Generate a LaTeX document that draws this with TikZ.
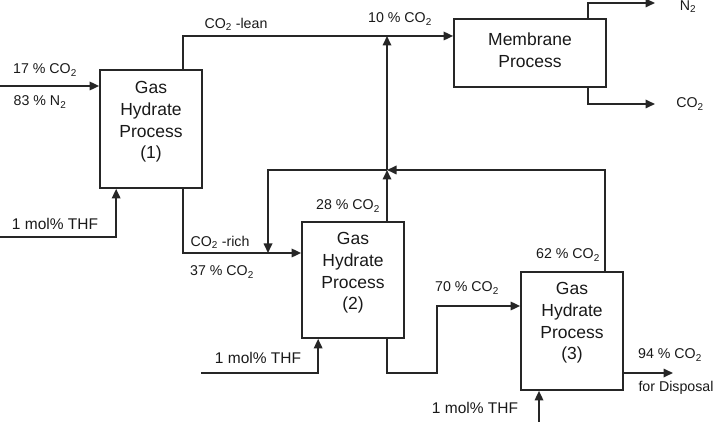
\documentclass[tikz,border=0pt]{standalone}
\usepackage{fontspec}
\setmainfont{Liberation Sans}
\usetikzlibrary{calc,arrows.meta}
\begin{document}
\begin{tikzpicture}[x=1pt,y=-1pt,
  line/.style={line width=1.7pt,draw=black!85},
  arr/.style={line,-{Triangle[length=9.5pt,width=8.5pt]}},
  box/.style={draw=black!85,line width=1.7pt,inner sep=0pt},
  boxtext/.style={align=center,inner sep=0pt,font=\fontsize{17.5}{21.7}\selectfont,text=black!90},
  lab/.style={inner sep=0pt,font=\fontsize{14.2}{16}\selectfont,text=black!90},
  thf/.style={inner sep=0pt,font=\fontsize{15.5}{18}\selectfont,text=black!90}]
\useasboundingbox (0,0) rectangle (718,422);
% boxes
\node[box,minimum width=102pt,minimum height=118pt] (b1) at (151,129) {};
\node[boxtext] (b1t) at ($(b1)+(0,-7)$) {Gas\\Hydrate\\Process\\(1)};
\node[box,minimum width=102pt,minimum height=116pt] (b2) at (353,280) {};
\node[boxtext] (b2t) at ($(b2)+(0,-7)$) {Gas\\Hydrate\\Process\\(2)};
\node[box,minimum width=102pt,minimum height=118pt] (b3) at (572,331) {};
\node[boxtext] (b3t) at ($(b3)+(0,-8)$) {Gas\\Hydrate\\Process\\(3)};
\node[box,minimum width=152pt,minimum height=68pt] (mem) at (530,53) {};
\node[boxtext] (memt) at ($(mem)+(0,-3)$) {Membrane\\Process};
% coordinates
\coordinate (in1) at (0,86);
\coordinate (j1) at (183,36);
\coordinate (j2) at (387,170);
\coordinate (r1) at (605,170);
\coordinate (rd) at (268,170);
\coordinate (j3) at (183,253);
\coordinate (rdb) at (268,253);
\coordinate (t1) at (0,237);
\coordinate (t2) at (201,373);
\coordinate (t3) at (539,422);
\coordinate (k1) at (387,373);
\coordinate (k2) at (437,306);
\coordinate (o3) at (673,373);
\coordinate (n2) at (655,3);
\coordinate (co2) at (655,104);
% connectors
\draw[arr] (in1) -- (in1 -| b1.west);
\draw[arr] (b1.north -| j1) -- (j1) -- (j1 -| mem.west);
\draw[arr] (b2.north -| j2) -- (j2);
\draw[arr] (j2) -- (j2 |- j1);
\draw[arr] (b3.north -| r1) -- (r1) -- (j2);
\draw[arr] (j2) -- (rd) -- (rdb);
\draw[arr] (b1.south -| j3) -- (j3) -- (j3 -| b2.west);
\draw[arr] (t1) -| ($(b1.south west)+(17,0)$);
\draw[arr] (t2) -| ($(b2.south west)+(17,0)$);
\draw[arr] (b2.south -| k1) -- (k1) -| (k2) -- (k2 -| b3.west);
\draw[arr] (o3 -| b3.east) -- (o3);
\draw[arr] (t3) -- (t3 |- b3.south);
\draw[arr] ($(mem.north west)+(135,0)$) |- (n2);
\draw[arr] ($(mem.south west)+(135,0)$) |- (co2);
% labels
\node[lab] (l1) at (45,70) {17 \% CO\textsubscript{2}};
\node[lab] (l2) at (40,102) {83 \% N\textsubscript{2}};
\node[lab] (l3) at (236,24) {CO\textsubscript{2} -lean};
\node[lab] (l4) at (400,19) {10 \% CO\textsubscript{2}};
\node[lab] (l5) at (688,7) {N\textsubscript{2}};
\node[lab] (l6) at (690,104) {CO\textsubscript{2}};
\node[lab] (l7) at (348,206) {28 \% CO\textsubscript{2}};
\node[lab] (l8) at (220,242) {CO\textsubscript{2} -rich};
\node[lab] (l9) at (222,272) {37 \% CO\textsubscript{2}};
\node[lab] (l10) at (467,288) {70 \% CO\textsubscript{2}};
\node[lab] (l11) at (568,255) {62 \% CO\textsubscript{2}};
\node[lab] (l12) at (670,355) {94 \% CO\textsubscript{2}};
\node[lab] (l13) at (676,388) {for Disposal};
\node[thf] (h1) at (55,224) {1 mol\% THF};
\node[thf] (h2) at (258,358) {1 mol\% THF};
\node[thf] (h3) at (475,408) {1 mol\% THF};
\end{tikzpicture}
\end{document}
